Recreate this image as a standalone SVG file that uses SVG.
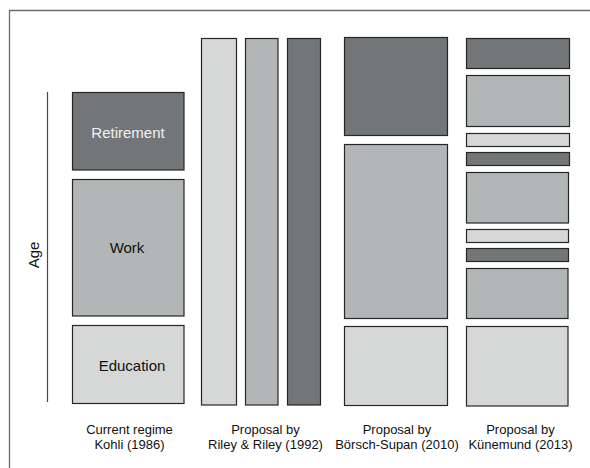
<svg xmlns="http://www.w3.org/2000/svg" width="590" height="468" viewBox="0 0 590 468">
<style>
.b{stroke:#262626;stroke-width:1.2}
.d{fill:#737678}
.m{fill:#b3b6b6}
.l{fill:#d6d8d8}
text{font-family:"Liberation Sans",Arial,sans-serif}
.lab{font-size:15px;fill:#111111;text-anchor:middle}
.cap{font-size:13px;fill:#111111;text-anchor:middle}
</style>
<rect width="590" height="468" fill="#ffffff"/>
<g id="frame" fill="none" stroke="#6b6b6b" stroke-width="1.3">
<path d="M9.5 468 V10.5 H590"/>
</g>
<g id="axis">
<line x1="47.5" y1="92" x2="47.5" y2="402" stroke="#4a4a4a" stroke-width="1.2"/>
<text class="lab" transform="translate(39,255) rotate(-90)">Age</text>
</g>
<g id="kohli">
<rect class="b d" x="72.5" y="92.5" width="111.5" height="77.5"/>
<text class="lab" x="128" y="138" style="fill:#f2f2f2">Retirement</text>
<rect class="b m" x="72.5" y="179.5" width="111.5" height="136.5"/>
<text class="lab" x="127" y="252.5">Work</text>
<rect class="b l" x="72.5" y="325.5" width="111.5" height="78"/>
<text class="lab" x="132" y="371">Education</text>
<text class="cap" x="129.5" y="434">Current regime</text>
<text class="cap" x="129.5" y="449">Kohli (1986)</text>
</g>
<g id="riley">
<rect class="b l" x="201.5" y="38.5" width="35" height="366.5"/>
<rect class="b m" x="245.5" y="38.5" width="32.5" height="366.5"/>
<rect class="b d" x="287.5" y="38.5" width="33" height="366.5"/>
<text class="cap" x="265.5" y="434">Proposal by</text>
<text class="cap" x="265.5" y="449">Riley &amp; Riley (1992)</text>
</g>
<g id="boersch">
<rect class="b d" x="344.5" y="37.5" width="103" height="98"/>
<rect class="b m" x="344.5" y="144.5" width="103" height="174"/>
<rect class="b l" x="344.5" y="326.5" width="103" height="79"/>
<text class="cap" x="397" y="433.5">Proposal by</text>
<text class="cap" x="397" y="448.5">Börsch-Supan (2010)</text>
</g>
<g id="kuenemund">
<rect class="b d" x="466.5" y="38.5" width="103" height="30"/>
<rect class="b m" x="466.5" y="75.5" width="103" height="51"/>
<rect class="b l" x="466.5" y="133.5" width="103" height="13"/>
<rect class="b d" x="466.5" y="152.5" width="103" height="13"/>
<rect class="b m" x="466.5" y="172.5" width="102" height="50.5"/>
<rect class="b l" x="466.5" y="229.5" width="102" height="13"/>
<rect class="b d" x="466.5" y="248.5" width="102" height="13"/>
<rect class="b m" x="466.5" y="268.5" width="101.5" height="50"/>
<rect class="b l" x="466.5" y="326.5" width="101.5" height="79.5"/>
<text class="cap" x="520.5" y="433.5">Proposal by</text>
<text class="cap" x="520.5" y="448.5">Künemund (2013)</text>
</g>
</svg>
